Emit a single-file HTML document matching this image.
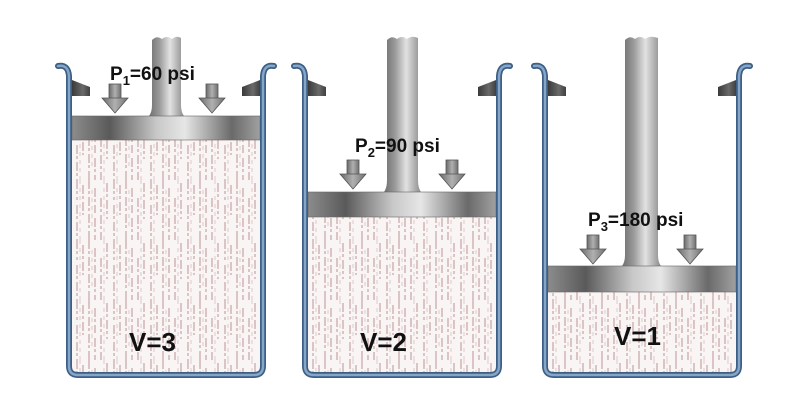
<!DOCTYPE html>
<html><head><style>html,body{margin:0;padding:0;background:#fff}svg{display:block}</style></head><body>
<svg width="800" height="400" viewBox="0 0 800 400" xmlns="http://www.w3.org/2000/svg" font-family="Liberation Sans, sans-serif">
<defs>
<linearGradient id="pist" x1="0" x2="1" y1="0" y2="0">
<stop offset="0" stop-color="#8c8c8c"/><stop offset="0.2" stop-color="#5a5a5a"/><stop offset="0.45" stop-color="#c8c8c8"/><stop offset="0.6" stop-color="#e6e6e6"/><stop offset="0.85" stop-color="#6a6a6a"/><stop offset="1" stop-color="#a0a0a0"/>
</linearGradient>
<linearGradient id="rod" x1="0" x2="1" y1="0" y2="0">
<stop offset="0" stop-color="#6e6e6e"/><stop offset="0.3" stop-color="#9a9a9a"/><stop offset="0.6" stop-color="#e2e2e2"/><stop offset="1" stop-color="#8a8a8a"/>
</linearGradient>
<linearGradient id="arr" x1="0" x2="1"><stop offset="0" stop-color="#6a6a6a"/><stop offset="0.5" stop-color="#b0b0b0"/><stop offset="1" stop-color="#707070"/></linearGradient>
<linearGradient id="stp" x1="0" x2="1"><stop offset="0" stop-color="#3a3a3a"/><stop offset="0.6" stop-color="#6a6a6a"/><stop offset="1" stop-color="#404040"/></linearGradient>
<pattern id="fl" width="37" height="60" patternUnits="userSpaceOnUse">
<rect width="37" height="60" fill="#faf5f5"/>
<g stroke="#b58a8a" stroke-width="0.9">
<path d="M3,0v20M3,25v35M9,5v30M15,0v60M21,8v25M21,38v22M27,18v42M33,3v36" stroke-dasharray="9,2,3,3"/>
<path d="M6,0v60M18,10v40M30,0v60" stroke-opacity="0.45" stroke-dasharray="4,4"/>
</g>
</pattern>
<g id="wall">
<path d="M58,66 Q68,64 69,76 L69,366 Q69,375 78,375 L254,375 Q263,375 263,366 L263,76 Q264,64 274,66" fill="none" stroke="#3d5f85" stroke-width="6" stroke-linecap="round"/>
<path d="M58,66 Q68,64 69,76 L69,366 Q69,375 78,375 L254,375 Q263,375 263,366 L263,76 Q264,64 274,66" fill="none" stroke="#86a6c8" stroke-width="2.5" stroke-linecap="round"/>
<polygon points="72,80 90,87 90,96 72,96" fill="url(#stp)"/>
<polygon points="260,80 242,87 242,96 260,96" fill="url(#stp)"/>
</g>
<g id="arrow">
<rect x="-6" y="0" width="12" height="15" fill="url(#arr)" stroke="#555" stroke-width="0.8"/>
<polygon points="-13,14 13,14 0,29" fill="url(#arr)" stroke="#555" stroke-width="0.8"/>
</g>
</defs>

<g>
<rect x="72" y="140" width="188" height="232" fill="url(#fl)"/>
<path d="M149,116 Q152,112 152,105 L152,40 Q157,35 162,39 Q167,35 172,39 Q177,35 181,38 L181,105 Q181,112 184,116 Z" fill="url(#rod)"/>
<rect x="72" y="116" width="188" height="24" fill="url(#pist)" stroke="#666" stroke-width="0.6"/>
<use href="#wall"/>
<use href="#arrow" x="115" y="84"/>
<use href="#arrow" x="212" y="84"/>
<text x="110" y="80" font-size="19" font-weight="bold" fill="#111">P<tspan font-size="13" dy="5">1</tspan><tspan dy="-5">=60 psi</tspan></text>
<text x="129" y="351" font-size="26" font-weight="bold" fill="#111">V=3</text>
</g>

<g transform="translate(236,0)">
<rect x="72" y="217" width="188" height="155" fill="url(#fl)"/>
<path d="M148,192 Q151,188 151,180 L151,40 Q156,35 161,39 Q166,35 171,39 Q176,35 182,38 L182,180 Q182,188 185,192 Z" fill="url(#rod)"/>
<rect x="72" y="192" width="188" height="25" fill="url(#pist)" stroke="#666" stroke-width="0.6"/>
<use href="#wall"/>
<use href="#arrow" x="117" y="160"/>
<use href="#arrow" x="216" y="160"/>
<text x="119" y="152" font-size="19" font-weight="bold" fill="#111">P<tspan font-size="13" dy="5">2</tspan><tspan dy="-5">=90 psi</tspan></text>
<text x="124" y="351" font-size="26" font-weight="bold" fill="#111">V=2</text>
</g>

<g transform="translate(476,0)">
<rect x="72" y="292" width="188" height="80" fill="url(#fl)"/>
<path d="M146,266 Q149,262 149,255 L149,40 Q154,35 159,39 Q164,35 169,39 Q174,35 182,38 L182,255 Q182,262 185,266 Z" fill="url(#rod)"/>
<rect x="72" y="266" width="188" height="26" fill="url(#pist)" stroke="#666" stroke-width="0.6"/>
<use href="#wall"/>
<use href="#arrow" x="117" y="235"/>
<use href="#arrow" x="214" y="235"/>
<text x="112" y="226" font-size="19" font-weight="bold" fill="#111">P<tspan font-size="13" dy="5">3</tspan><tspan dy="-5">=180 psi</tspan></text>
<text x="138" y="345" font-size="26" font-weight="bold" fill="#111">V=1</text>
</g>
</svg>
</body></html>
